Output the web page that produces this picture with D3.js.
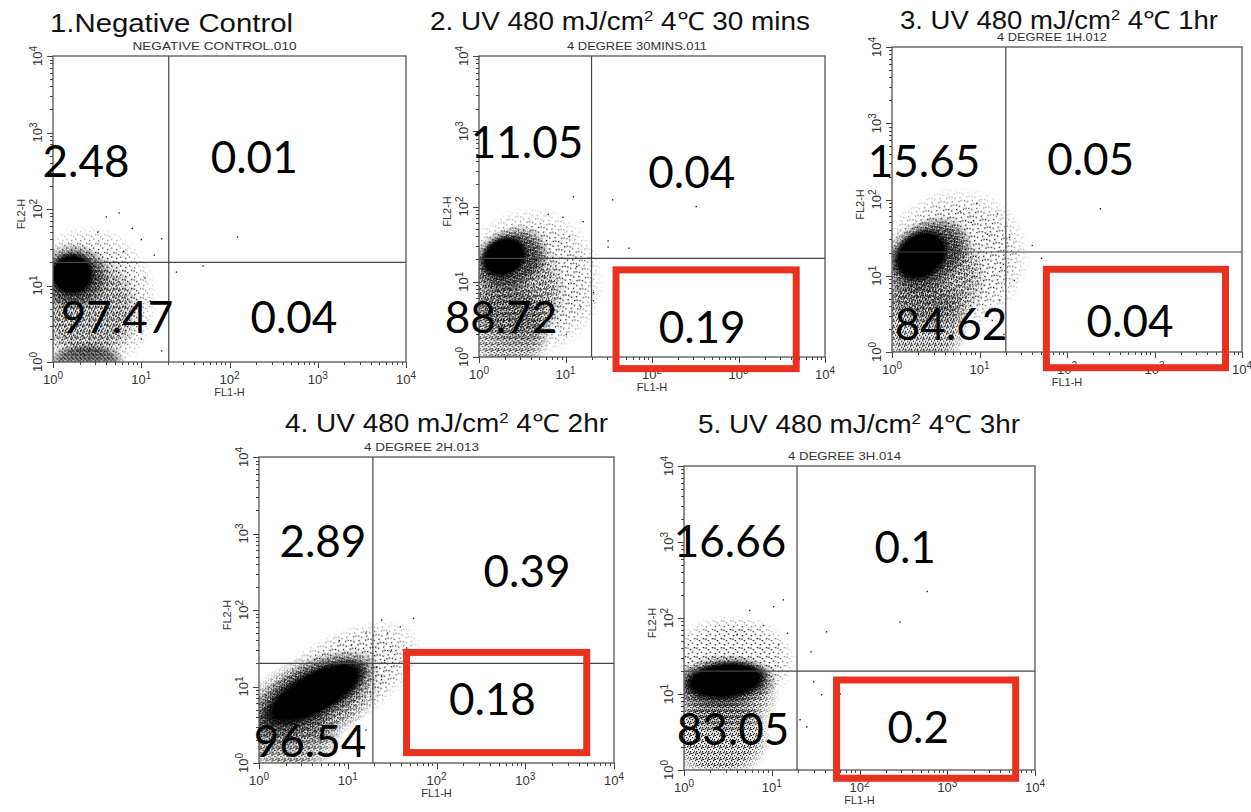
<!DOCTYPE html>
<meta charset="utf-8">
<style>
  body { margin: 0; background: #fff; }
  .axis line { stroke: #444; shape-rendering: crispEdges; }
  .ticklab { font-family: "Liberation Sans", Arial, sans-serif; font-size: 13px; fill: #333; }
  .axtitle { font-family: "Liberation Sans", Arial, sans-serif; font-size: 11px; fill: #333; }
  .title { font-family: "Liberation Sans", Arial, sans-serif; font-size: 25px; fill: #111; }
  .file { font-family: "Liberation Sans", Arial, sans-serif; font-size: 11px; fill: #333; }
  .pct { font-family: Lato, "Open Sans", sans-serif; font-size: 44px; fill: #000; }
</style>

<svg id="chart"></svg>

<script src="https://cdn.jsdelivr.net/npm/d3@7/dist/d3.min.js"></script>

<script>
    // ---- data ----
    var panelTitles = ["1.Negative Control", "2. UV 480 mJ/cm² 4℃ 30 mins", "3. UV 480 mJ/cm² 4℃ 1hr",
                       "4. UV 480 mJ/cm² 4℃ 2hr", "5. UV 480 mJ/cm² 4℃ 3hr"];
    var fileNames = ["NEGATIVE CONTROL.010", "4 DEGREE 30MINS.011", "4 DEGREE 1H.012", "4 DEGREE 2H.013", "4 DEGREE 3H.014"];

    // quadrant percentages
    var pctUL = ["2.48", "11.05", "15.65", "2.89", "16.66"];
    var pctUR = ["0.01", "0.04", "0.05", "0.39", "0.1"];
    var pctLL = ["97.47", "88.72", "84.62", "96.54", "83.05"];
    var pctLR = ["0.04", "0.19", "0.04", "0.18", "0.2"];

    // quadrant gates (FL1, FL2)
    var gateFL1 = [20.5, 20, 20, 19.2, 19.4];
    var gateFL2 = [20, 20.5, 20.5, 20, 20];

    var decadeTicks = [1, 10, 100, 1000, 10000];
    var decadeExp = ["0", "1", "2", "3", "4"];

    // event populations: [FL1 centre, FL2 centre, FL1 spread (decades), FL2 spread (decades), tilt, density]
    var populations = [
      [[2.5, 6.3, 0.8, 1.0, 0, "sparse"], [2.5, 5, 0.6, 0.75, 0, "mid"], [2.4, 1.05, 0.45, 0.22, 0, "dense"],
       [1.7, 13, 0.42, 0.45, 0, "dense"], [1.65, 14, 0.27, 0.3, 0, "core"]],
      [[4.0, 10, 0.85, 1.0, -20, "sparse"], [2.2, 2.5, 0.5, 0.7, 0, "mid"], [2.6, 8, 0.6, 0.8, -10, "mid"],
       [2.3, 20, 0.48, 0.42, -30, "dense"], [1.95, 21.4, 0.3, 0.28, -30, "core"]],
      [[5.0, 15.8, 0.9, 0.95, -30, "sparse"], [2.2, 2.5, 0.55, 0.7, 0, "mid"], [2.8, 10, 0.65, 0.75, -30, "mid"],
       [2.6, 19, 0.55, 0.45, -35, "dense"], [2.15, 18.5, 0.36, 0.33, -35, "core"]],
      [[7.9, 12, 1.05, 0.6, -30, "sparse"], [2.2, 2.2, 0.6, 0.5, 0, "mid"], [3.5, 6, 0.9, 0.6, -25, "mid"],
       [4.0, 8, 0.85, 0.42, -28, "dense"], [4.3, 8.3, 0.68, 0.3, -28, "core"]],
      [[3.5, 28, 0.75, 0.6, 0, "sparse"], [2.5, 2.8, 0.6, 0.6, 0, "mid"], [2.8, 10, 0.65, 0.55, 0, "mid"],
       [2.9, 14, 0.62, 0.36, -6, "dense"], [2.95, 15, 0.5, 0.26, -6, "core"]]
    ];

    // individual outlying events [FL1, FL2]
    var outliers = [
      [[10, 40], [7.9, 56], [4, 79], [11, 12.6], [16, 3.2], [5.6, 89], [123, 43], [25, 15], [50, 18], [17, 1.4],
       [8.9, 20], [12.6, 6.3], [6.3, 28], [14, 25], [3.2, 50], [10, 2], [7.1, 4], [17, 41]],
      [[35, 123], [324, 100], [31, 35], [31, 29], [54, 28], [21, 7.2], [12.3, 135], [9.3, 72], [16, 63], [15, 4.7],
       [10.2, 2], [21, 5.6], [13.5, 16], [6.3, 79], [11, 40]],
      [[240, 76], [51, 17], [25, 8.7], [40, 25], [22, 32], [16, 65], [9.3, 89], [12.3, 35], [17, 4.8], [19, 1.7],
       [14, 2.6], [8, 50], [6, 70]],
      [[55, 78], [39, 60], [28, 50], [24, 74], [16, 50], [31, 30], [46, 32], [21, 18], [24, 13.5], [16, 2.7],
       [12.6, 1.5], [19, 27], [26, 22], [11, 35], [8, 40]],
      [[590, 224], [290, 89], [42, 66], [28, 36], [30, 14.5], [37, 9.8], [13.5, 174], [10.5, 141], [5.6, 126], [15, 63],
       [21, 4.6], [60, 10], [25, 3.7], [8, 80], [12, 45], [4, 60]]
    ];

    // red highlight box [FL1 from, FL1 to, FL2 from, FL2 to]
    var highlight = [null, [35, 5100, 0.63, 16], [53, 7100, 0.56, 13.5], [42, 5400, 1.23, 31], [50, 6600, 0.7, 17]];

    // ---- layout ----
    var panelBox = [[53, 56, 406, 362], [479, 56, 825, 357], [892, 47, 1242, 352], [259, 457, 614, 763], [684, 466, 1035, 770]];
    var titleAt = [[50, 32, 243], [430, 30, 380], [900, 29, 318], [285, 432, 323], [698, 433, 322]];
    var fileWidth = [164, 140, 110, 115, 113];
    // quadrant label anchors in decades [UL, UR, LL, LR]
    var labelAt = [
      [[0.374, 2.42], [2.28, 2.47], [0.725, 0.38], [2.73, 0.38]],
      [[0.555, 2.65], [2.46, 2.25], [0.254, 0.32], [2.58, 0.19]],
      [[0.366, 2.30], [2.27, 2.32], [0.674, 0.157], [2.72, 0.197]],
      [[0.72, 2.69], [3.02, 2.30], [0.575, 0.08], [2.63, 0.63]],
      [[0.524, 2.80], [2.52, 2.72], [0.558, 0.33], [2.67, 0.355]]
    ];

    var svg = d3.select("#chart").attr("width", 1251).attr("height", 812);
    var defs = svg.append("defs");

    function dotPattern(id, size, dots) {
      var p = defs.append("pattern").attr("id", id)
          .attr("patternUnits", "userSpaceOnUse")
          .attr("width", size).attr("height", size);
      p.selectAll("rect").data(dots).enter().append("rect")
          .attr("x", d => d[0]).attr("y", d => d[1])
          .attr("width", 1.3).attr("height", 1.3).attr("fill", "#000");
    }
    dotPattern("sparse", 9, [[1, 2], [5, 0.5], [7, 5], [3, 7], [0.5, 5.5]]);
    dotPattern("mid", 6, [[0, 0], [3, 1], [1, 3], [4, 4], [2, 5], [5, 2.5], [0.5, 4.5]]);
    dotPattern("dense", 4, [[0, 0], [2, 1], [1, 2.5], [3, 3], [0.5, 1.2], [2.6, 2.2]]);

    function fadeMask(id, solid) {
      var grad = defs.append("radialGradient").attr("id", id + "Grad");
      grad.append("stop").attr("offset", "0%").attr("stop-color", "#fff");
      grad.append("stop").attr("offset", solid).attr("stop-color", "#fff");
      grad.append("stop").attr("offset", "100%").attr("stop-color", "#000");
      defs.append("mask").attr("id", id).attr("maskContentUnits", "objectBoundingBox")
        .append("rect").attr("width", 1).attr("height", 1).attr("fill", "url(#" + id + "Grad)");
    }
    fadeMask("fade", "65%");
    fadeMask("fadeCore", "75%");

    var minorTicks = [];
    decadeTicks.slice(0, 4).forEach(function(d) {
      d3.range(1, 10).forEach(function(k) { minorTicks.push(d * k); });
    });
    minorTicks.push(10000);

    panelBox.forEach(function(b, i) {
      var x = d3.scaleLog().domain([1, 1e4]).range([b[0], b[2]]);
      var y = d3.scaleLog().domain([1, 1e4]).range([b[3], b[1]]);
      var decX = x(10) - x(1), decY = y(1) - y(10);
      var g = svg.append("g");

      defs.append("clipPath").attr("id", "clip" + i).append("rect")
          .attr("x", b[0]).attr("y", b[1]).attr("width", b[2] - b[0]).attr("height", b[3] - b[1]);
      var plot = g.append("g").attr("clip-path", "url(#clip" + i + ")");

      plot.selectAll("ellipse").data(populations[i]).enter().append("ellipse")
          .attr("rx", d => d[2] * decX)
          .attr("ry", d => d[3] * decY)
          .attr("transform", d => "translate(" + x(d[0]) + "," + y(d[1]) + ") rotate(" + d[4] + ")")
          .attr("fill", d => d[5] == "core" ? "#000" : "url(#" + d[5] + ")")
          .attr("mask", d => d[5] == "core" ? "url(#fadeCore)" : "url(#fade)");

      plot.selectAll("rect.ev").data(outliers[i]).enter().append("rect")
          .attr("class", "ev")
          .attr("x", d => x(d[0]) - 0.6).attr("y", d => y(d[1]) - 0.6)
          .attr("width", 1.4).attr("height", 1.4).attr("fill", "#222");

      // quadrant lines
      g.append("line").attr("x1", x(gateFL1[i])).attr("x2", x(gateFL1[i]))
          .attr("y1", b[1]).attr("y2", b[3]).attr("stroke", "#444").attr("stroke-width", 1.2);
      g.append("line").attr("x1", b[0]).attr("x2", b[2])
          .attr("y1", y(gateFL2[i])).attr("y2", y(gateFL2[i])).attr("stroke", "#444").attr("stroke-width", 1.2);

      g.append("rect").attr("x", b[0]).attr("y", b[1])
          .attr("width", b[2] - b[0]).attr("height", b[3] - b[1])
          .attr("fill", "none").attr("stroke", "#555").attr("stroke-width", 1.3);

      // axes
      var xa = g.append("g").attr("class", "axis").attr("transform", "translate(0," + b[3] + ")")
          .call(d3.axisBottom(x).tickValues(minorTicks).tickFormat("").tickSizeOuter(0));
      xa.select(".domain").remove();
      xa.selectAll(".tick line").attr("y2", d => decadeTicks.indexOf(d) >= 0 ? 6 : 3);

      var ya = g.append("g").attr("class", "axis").attr("transform", "translate(" + b[0] + ",0)")
          .call(d3.axisLeft(y).tickValues(minorTicks).tickFormat("").tickSizeOuter(0));
      ya.select(".domain").remove();
      ya.selectAll(".tick line").attr("x2", d => decadeTicks.indexOf(d) >= 0 ? -6 : -3);

      var xl = g.selectAll("text.xl").data(decadeTicks).enter().append("text")
          .attr("class", "ticklab xl")
          .attr("x", d => x(d)).attr("y", b[3] + 22)
          .attr("text-anchor", "middle");
      xl.append("tspan").text("10");
      xl.append("tspan").attr("dy", -5).attr("font-size", 10).text((d, j) => decadeExp[j]);

      var yl = g.selectAll("text.yl").data(decadeTicks).enter().append("text")
          .attr("class", "ticklab yl")
          .attr("transform", d => "translate(" + (b[0] - 11) + "," + y(d) + ") rotate(-90)")
          .attr("text-anchor", "middle");
      yl.append("tspan").text("10");
      yl.append("tspan").attr("dy", -5).attr("font-size", 10).text((d, j) => decadeExp[j]);

      g.append("text").attr("class", "axtitle")
          .attr("x", x(100)).attr("y", b[3] + 34).attr("text-anchor", "middle").text("FL1-H");
      g.append("text").attr("class", "axtitle")
          .attr("transform", "translate(" + (b[0] - 28) + "," + (y(100) + 5) + ") rotate(-90)")
          .attr("text-anchor", "middle").text("FL2-H");

      // file name above plot
      g.append("text").attr("class", "file")
          .attr("x", (b[0] + b[2]) / 2 - 15 - fileWidth[i] / 2).attr("y", b[1] - 6)
          .attr("textLength", fileWidth[i]).attr("lengthAdjust", "spacingAndGlyphs")
          .text(fileNames[i]);

      // panel title with superscript
      var parts = panelTitles[i].split("²");
      var t = g.append("text").attr("class", "title")
          .attr("x", titleAt[i][0]).attr("y", titleAt[i][1])
          .attr("textLength", titleAt[i][2]).attr("lengthAdjust", "spacingAndGlyphs");
      t.append("tspan").text(parts[0]);
      if (parts.length > 1) {
        t.append("tspan").attr("dy", -9).attr("font-size", 15).text("2");
        t.append("tspan").attr("dy", 9).text(parts[1]);
      }

      // highlight box
      var h = highlight[i];
      if (h) {
        g.append("rect")
            .attr("x", x(h[0]) + 3.5).attr("y", y(h[3]) + 3.5)
            .attr("width", x(h[1]) - x(h[0]) - 7).attr("height", y(h[2]) - y(h[3]) - 7)
            .attr("fill", "none").attr("stroke", "#e8321f").attr("stroke-width", 7);
      }

      // quadrant percentages
      var pcts = [pctUL[i], pctUR[i], pctLL[i], pctLR[i]];
      g.selectAll("text.pct").data(pcts).enter().append("text")
          .attr("class", "pct")
          .attr("x", (d, j) => x(Math.pow(10, labelAt[i][j][0])))
          .attr("y", (d, j) => y(Math.pow(10, labelAt[i][j][1])))
          .attr("text-anchor", "middle")
          .text(d => d);
    });
</script>
